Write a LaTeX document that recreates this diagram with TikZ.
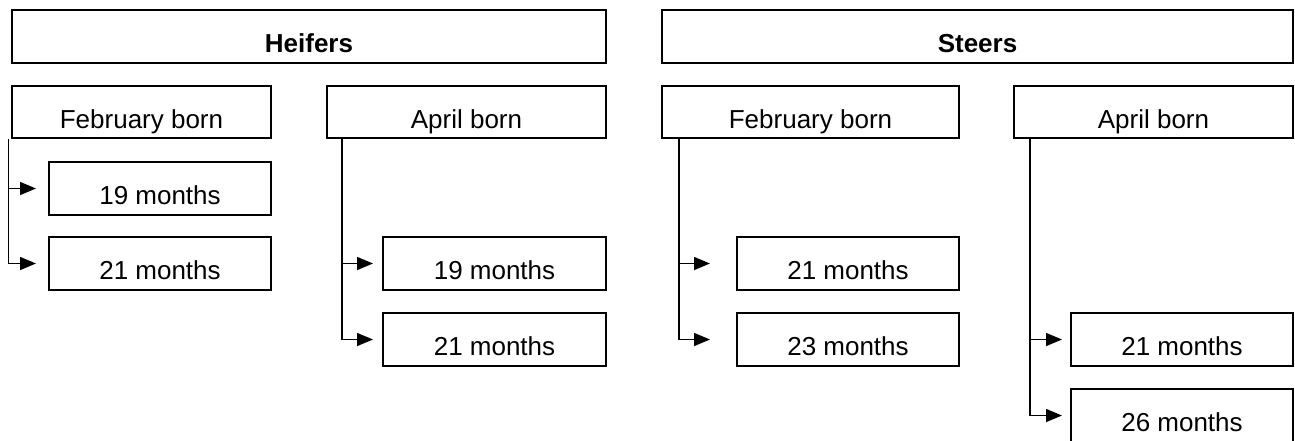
\documentclass[tikz,border=0pt]{standalone}
\usepackage{fontspec}
\setmainfont{Liberation Sans}
\usepackage{tikz}
\usetikzlibrary{arrows.meta}

\tikzset{
  box/.style={draw, line width=2pt, inner sep=0pt, minimum height=53pt,
    text height=32pt, text depth=0pt, font=\fontsize{26}{30}\selectfont},
  head/.style={box, font=\fontsize{26}{30}\selectfont\bfseries},
  link/.style={line width=1.5pt, -{Triangle[length=16pt,width=13pt]}}
}

\begin{document}
\begin{tikzpicture}[x=1pt,y=-1pt]

    \useasboundingbox (0,0) rectangle (1295,440);

    % the two groups
    \node[head, minimum width=594pt] (heif) at (309,36.5) {Heifers};
    \node[head, minimum width=631pt] (steer) at (977.5,36.5) {Steers};

    % month of birth
    \node[box, minimum width=259pt, minimum height=52pt] (hfeb) at (141.5,112) {February born};
    \node[box, minimum width=279pt, minimum height=52pt] (hapr) at (466.5,112) {April born};
    \node[box, minimum width=297pt, minimum height=52pt] (sfeb) at (810.5,112) {February born};
    \node[box, minimum width=279pt, minimum height=52pt] (sapr) at (1153.5,112) {April born};

    % age at slaughter
    \node[box, minimum width=222pt] (hf19) at (160,188.5) {19 months};
    \node[box, minimum width=222pt] (hf21) at (160,263.5) {21 months};
    \node[box, minimum width=223pt] (ha19) at (494.5,263.5) {19 months};
    \node[box, minimum width=223pt] (ha21) at (494.5,339.5) {21 months};
    \node[box, minimum width=222pt] (sf21) at (848,263.5) {21 months};
    \node[box, minimum width=222pt] (sf23) at (848,339.5) {23 months};
    \node[box, minimum width=222pt] (sa21) at (1182,339.5) {21 months};
    \node[box, minimum width=222pt] (sa26) at (1182,415.5) {26 months};

    % the spines
    \coordinate (hfs) at ([xshift=-2.5pt]hfeb.south west);
    \coordinate (has) at ([xshift=16pt]hapr.south west);
    \coordinate (sfs) at ([xshift=18pt]sfeb.south west);
    \coordinate (sas) at ([xshift=17pt]sapr.south west);

    \draw[link, shorten >=12pt] (hfs) |- (hf19);
    \draw[link, shorten >=12pt] (hfs) |- (hf21);
    \draw[link, shorten >=9pt] (has) |- (ha19);
    \draw[link, shorten >=9pt] (has) |- (ha21);
    \draw[link, shorten >=26pt] (sfs) |- (sf21);
    \draw[link, shorten >=26pt] (sfs) |- (sf23);
    \draw[link, shorten >=8pt] (sas) |- (sa21);
    \draw[link, shorten >=8pt] (sas) |- (sa26);
  \end{tikzpicture}
\end{document}
